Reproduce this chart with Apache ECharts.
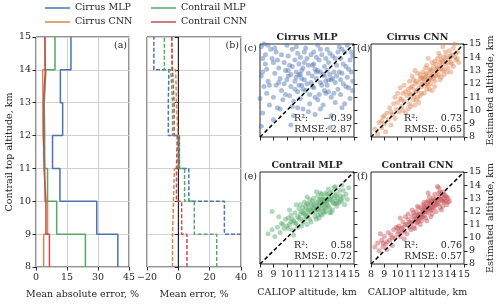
<!DOCTYPE html>
<html><head><meta charset="utf-8">
<script src="https://cdn.jsdelivr.net/npm/echarts@6/dist/echarts.min.js"></script>
<style>html,body{margin:0;padding:0;background:#fff}#c{width:500px;height:305px}</style>
</head><body><div id="c"></div>
<script>
// ---------- data ----------
const altBins = [8, 9, 10, 11, 12, 13, 14, 15];
const seriesNames = ['Cirrus MLP', 'Cirrus CNN', 'Contrail MLP', 'Contrail CNN'];
// Mean absolute error (%) per 1-km altitude bin (8-9 ... 14-15)
const maeCirrusMLP   = [39.6, 29.4, 11.6, 8.0, 12.9, 11.8, 16.9];
const maeCirrusCNN   = [3.7, 5.6, 4.3, 3.4, 3.4, 3.2, 4.3];
const maeContrailMLP = [23.9, 10.0, 5.6, 4.2, 4.0, 4.8, 9.2];
const maeContrailCNN = [6.5, 4.8, 3.9, 3.7, 3.6, 4.5, 4.3];
// Mean error (%) per bin
const meCirrusMLP   = [42, 29.4, 6.7, 0.7, -6.4, -6.0, -15.6];
const meCirrusCNN   = [-3.7, -3.1, -2.5, -0.3, -1.2, -1.7, -4.2];
const meContrailMLP = [24.5, 10.2, 4.0, 0.5, -3.7, -4.8, -8.9];
const meContrailCNN = [5.5, 2.1, -1.2, -0.7, -2.7, -3.7, -4.2];
// tick labels
const maeTicks = [0, 15, 30, 45];
const meTicks = [-20, 0, 20, 40];
const scatterTicks = [8, 9, 10, 11, 12, 13, 14, 15];
// scatter statistics
const statsR2   = ['-0.39', '0.73', '0.58', '0.76'];
const statsRMSE = ['2.87', '0.65', '0.72', '0.57'];
const panelTitles = ['Cirrus MLP', 'Cirrus CNN', 'Contrail MLP', 'Contrail CNN'];
// scatter points [CALIOP altitude, estimated altitude] (km)
const ptsCirrusMLP = [[8.1,14.8],[8.2,13.9],[8.1,12.6],[8.3,11.8],[8.0,10.9],[8.2,9.8],[8.1,8.8],[8.4,14.2],[8.5,13.1],[8.6,12.2],[8.5,11.3],[8.7,10.4],[8.3,15.0],[8.8,14.6],
[9.0,13.6],[9.1,12.8],[9.2,11.9],[9.0,11.0],[9.3,10.2],[9.4,13.2],[9.5,12.4],[9.6,11.5],[9.2,14.4],[9.7,10.8],[9.8,12.0],[9.9,13.0],
[10.0,14.9],[10.1,14.1],[10.2,13.4],[10.1,12.6],[10.3,11.8],[10.2,11.1],[10.4,10.3],[10.5,9.6],[10.4,14.6],[10.6,13.8],[10.7,12.9],[10.6,12.2],[10.8,11.4],[10.5,10.7],[10.9,13.5],[10.8,14.3],[10.3,8.9],
[11.0,12.7],[11.1,11.9],[11.2,13.2],[11.0,10.9],[11.3,12.3],[11.4,11.5],[11.2,10.1],[11.5,13.9],[11.6,12.8],[11.4,14.7],[11.7,11.2],[11.8,12.1],[11.9,13.4],[11.6,9.9],
[12.0,14.4],[12.1,13.1],[12.2,12.4],[12.0,11.7],[12.3,10.8],[12.4,13.8],[12.5,12.9],[12.3,14.9],[12.6,11.9],[12.7,10.4],[12.8,13.3],[12.9,12.2],[12.6,14.2],[12.9,11.3],
[13.0,14.6],[13.1,13.6],[13.2,12.7],[13.0,11.9],[13.3,11.0],[13.4,14.1],[13.5,12.9],[13.6,12.1],[13.3,9.6],[13.7,13.4],[13.8,11.6],[13.9,14.8],[13.6,10.6],[13.2,8.7],
[14.0,13.9],[14.1,12.8],[14.2,12.0],[14.0,11.2],[14.3,14.4],[14.4,13.3],[14.5,12.5],[14.3,10.5],[14.6,11.7],[14.7,13.8],[14.8,12.9],[14.5,14.9],[14.9,12.2],[14.7,10.9],[14.9,14.1],
[10.7,12.5],[11.1,12.4],[11.3,13.6],[12.2,12.9],[12.5,12.1],[12.8,12.6],[13.4,12.4],[13.1,12.3],[11.9,12.6],[10.9,11.9],
[8.2,12.9],[8.4,13.5],[8.6,14.9],[8.9,13.9],[8.7,11.9],[9.1,14.7],[9.3,13.8],[9.4,12.1],[9.6,14.2],[9.8,13.6],[9.9,11.2],[9.5,10.1],[10.0,12.3],[10.1,13.0],[10.3,12.7],[10.4,13.3],[10.6,11.6],[10.7,14.8],[10.9,12.7],[11.0,14.0],[11.1,13.0],[11.2,11.6],[11.3,14.4],[11.5,12.0],[11.6,13.4],[11.7,10.5],[11.8,14.2],[11.9,11.8],[12.0,13.5],[12.1,11.0],[12.2,14.0],[12.3,13.0],[12.4,11.2],[12.5,14.6],[12.7,12.7],[12.8,11.5],[12.9,13.9],[13.0,13.0],[13.1,11.4],[13.2,14.3],[13.3,12.3],[13.5,11.3],[13.6,13.9],[13.7,12.6],[13.8,14.4],[13.9,12.9],[14.0,12.3],[14.1,14.6],[14.2,13.5],[14.4,11.8],[14.6,13.1],[14.8,14.4],[14.9,11.5],[14.1,10.2],[12.1,9.7],[10.8,10.2],[9.0,9.3],[12.5,10.1]];
const ptsCirrusCNN = [[8.3,8.6],[8.5,8.2],[8.6,9.1],[8.8,8.7],[8.9,9.5],[9.0,9.0],[9.1,8.4],[9.2,9.8],[9.3,9.3],[9.4,10.2],[9.5,8.9],[9.6,9.7],[9.7,10.5],[9.8,9.4],[9.9,10.1],[9.8,11.0],
[10.0,10.6],[10.1,9.9],[10.2,10.9],[10.3,10.3],[10.4,11.3],[10.5,10.7],[10.6,9.8],[10.7,11.1],[10.8,11.6],[10.9,10.5],[10.2,11.7],[10.5,11.9],[10.8,10.1],[10.9,12.2],[10.4,10.0],
[11.0,11.2],[11.1,11.8],[11.2,10.8],[11.3,11.5],[11.4,12.2],[11.5,11.0],[11.6,11.7],[11.7,12.4],[11.8,11.3],[11.9,12.0],[11.1,12.6],[11.3,10.4],[11.5,12.8],[11.7,11.1],[11.9,12.9],[11.2,12.3],[11.6,10.6],[11.8,12.5],[11.4,11.4],[11.0,10.3],
[12.0,12.1],[12.1,12.7],[12.2,11.6],[12.3,12.4],[12.4,13.1],[12.5,12.0],[12.6,12.6],[12.7,13.3],[12.8,12.2],[12.9,12.9],[12.0,11.3],[12.2,13.4],[12.4,12.3],[12.6,11.5],[12.8,13.7],[12.1,12.5],[12.3,11.9],[12.5,13.0],[12.7,12.4],[12.9,13.5],[12.3,13.9],[12.6,13.6],[12.2,12.0],[12.8,11.8],
[13.0,12.6],[13.1,13.2],[13.2,12.3],[13.3,13.8],[13.4,13.0],[13.5,12.7],[13.6,13.5],[13.7,14.1],[13.8,13.2],[13.9,13.9],[13.1,14.3],[13.3,12.5],[13.5,14.0],[13.7,12.9],[13.9,14.5],[13.2,13.6],[13.6,14.4],[13.4,14.8],[13.0,13.9],
[14.0,13.6],[14.1,14.2],[14.2,13.3],[14.3,14.0],[14.4,13.8],[14.5,14.4],[14.2,14.7],[14.6,13.6],[14.0,12.9],[14.3,15.0],
[10.3,10.8],[10.6,11.4],[10.9,11.3],[11.0,11.7],[11.2,11.1],[11.3,12.0],[11.5,11.5],[11.6,12.1],[11.8,11.8],[11.9,12.4],[12.0,12.4],[12.1,11.9],[12.2,12.8],[12.3,12.2],[12.4,12.7],[12.5,12.4],[12.6,13.0],[12.7,12.7],[12.8,12.6],[12.9,13.1],[13.0,13.2],[13.1,12.7],[13.2,13.1],[13.3,13.4],[13.4,13.7],[13.5,13.1],[13.6,13.8],[13.8,13.6],[14.0,14.1],[14.1,13.5],[14.4,14.3],[12.1,13.2],[11.7,12.7],[11.4,10.8],[10.0,11.3],[9.5,9.9],[9.0,9.6],[8.8,9.2],[12.4,11.6],[13.2,14.1],[14.5,13.9],[11.3,13.0]];
const ptsContrailMLP = [[8.6,10.3],[8.9,10.6],[9.1,10.1],[9.3,10.8],[9.5,10.4],[9.6,11.1],[9.8,10.7],[9.9,11.4],[8.9,12.0],[9.4,11.6],
[10.0,10.9],[10.1,11.5],[10.2,11.0],[10.3,11.7],[10.4,10.6],[10.5,11.3],[10.6,11.9],[10.7,11.1],[10.8,11.6],[10.9,12.2],[10.2,12.1],[10.5,10.2],[10.8,10.8],[10.4,11.4],[10.7,12.5],
[11.0,11.4],[11.1,12.0],[11.2,11.2],[11.3,11.8],[11.4,12.4],[11.5,11.6],[11.6,12.1],[11.7,11.4],[11.8,12.6],[11.9,11.9],[11.1,10.9],[11.3,12.7],[11.5,11.0],[11.7,12.9],[11.9,12.3],[11.2,12.3],[11.4,11.7],[11.6,12.5],[11.8,11.2],[11.0,12.5],[11.5,13.1],[11.9,12.8],
[12.0,12.2],[12.1,11.6],[12.2,12.7],[12.3,12.1],[12.4,12.9],[12.5,11.8],[12.6,12.5],[12.7,13.1],[12.8,12.3],[12.9,12.8],[12.0,13.0],[12.2,11.4],[12.4,12.4],[12.6,13.3],[12.8,11.9],[12.1,12.4],[12.3,13.2],[12.5,12.6],[12.7,12.0],[12.9,13.4],[12.2,13.5],[12.6,11.7],[12.4,11.5],[12.8,12.9],
[13.0,12.5],[13.1,13.1],[13.2,12.2],[13.3,12.9],[13.4,13.5],[13.5,12.6],[13.6,13.2],[13.7,12.4],[13.8,13.0],[13.9,13.6],[13.1,13.7],[13.3,11.9],[13.5,13.8],[13.7,12.8],[13.2,13.4],[13.4,12.1],[13.6,13.9],[13.9,12.7],[13.0,12.9],
[14.0,13.2],[14.1,12.8],[14.2,13.6],[14.3,12.5],[14.4,13.3],[14.6,13.8],[14.1,14.0],[14.5,12.9],
[11.0,11.8],[11.2,11.9],[11.4,12.1],[11.6,11.8],[11.8,12.0],[12.0,12.5],[12.1,12.0],[12.2,12.2],[12.3,12.6],[12.4,12.1],[12.5,12.9],[12.6,12.2],[12.7,12.7],[12.8,12.6],[12.9,12.3],[13.0,12.7],[13.1,12.4],[13.2,12.9],[13.3,13.2],[13.4,12.7],[13.5,13.0],[13.6,12.6],[13.7,13.3],[13.8,12.6],[12.3,11.7],[11.7,12.2],[11.3,11.4],[10.9,11.5],[10.6,11.1],[10.3,11.2],[12.5,13.4],[13.0,13.3],[13.2,11.9],[14.0,12.9],[14.2,13.1],[9.7,11.0],[10.1,10.7],[11.5,12.6],[12.9,12.0],[12.6,12.9]];
const ptsContrailCNN = [[8.3,9.3],[8.5,9.6],[8.6,9.0],[8.8,9.8],[8.9,9.3],[9.0,10.1],[9.1,9.5],[9.2,9.1],[9.3,10.4],[9.4,9.8],[9.5,10.2],[9.6,9.4],[9.7,10.6],[9.8,10.0],[9.9,10.8],[8.7,10.3],
[10.0,10.3],[10.1,10.9],[10.2,10.1],[10.3,10.7],[10.4,11.2],[10.5,10.5],[10.6,11.0],[10.7,10.3],[10.8,11.4],[10.9,10.8],[10.2,11.5],[10.5,9.9],[10.8,11.8],[10.4,10.8],[10.6,11.6],[10.1,10.5],
[11.0,11.1],[11.1,11.6],[11.2,10.8],[11.3,11.4],[11.4,12.0],[11.5,11.2],[11.6,11.8],[11.7,11.0],[11.8,12.2],[11.9,11.6],[11.1,12.1],[11.3,10.7],[11.5,12.4],[11.7,11.5],[11.9,12.5],[11.2,11.9],[11.4,11.1],[11.6,12.3],[11.8,11.3],[11.0,10.6],[11.5,11.7],[11.9,11.9],
[12.0,12.0],[12.1,11.5],[12.2,12.4],[12.3,11.9],[12.4,12.6],[12.5,12.1],[12.6,12.8],[12.7,12.3],[12.8,12.9],[12.9,12.5],[12.0,12.7],[12.2,11.3],[12.4,13.1],[12.6,11.8],[12.8,13.3],[12.1,12.3],[12.3,12.8],[12.5,11.6],[12.7,13.0],[12.9,12.0],[12.3,13.4],[12.6,12.4],
[13.0,12.6],[13.1,13.1],[13.2,12.3],[13.3,12.9],[13.4,13.5],[13.5,12.7],[13.6,13.2],[13.7,12.5],[13.8,13.0],[13.1,13.8],[13.3,12.1],[13.5,13.3],[13.2,13.5],[13.0,13.9],[13.9,12.8],[13.4,12.4],
[10.9,11.2],[11.1,11.2],[11.3,11.7],[11.5,11.5],[11.7,11.8],[11.9,12.1],[12.0,11.7],[12.1,12.1],[12.2,12.0],[12.3,12.3],[12.4,12.2],[12.5,12.5],[12.6,12.1],[12.7,12.7],[12.8,12.4],[12.9,12.8],[13.0,12.9],[13.1,12.6],[13.2,12.9],[13.3,13.2],[13.4,12.8],[13.5,13.0],[13.6,12.8],[13.7,13.1],[12.2,12.7],[11.8,11.6],[11.4,11.4],[10.7,11.0],[10.3,10.4],[10.0,10.7],[9.6,10.0],[9.2,9.7],[8.9,9.6],[13.8,12.7],[12.0,12.4],[11.6,11.3],[12.5,12.8],[13.1,13.4]];
const diagLine = [[8, 8], [15, 15]];

// ---------- styling ----------
const F = 'DejaVu Serif';
const FS = 9.5;
const TXT = '#262626';
const colors = ['#4c72b0', '#dd8452', '#55a868', '#c44e52'];

function stepPts(v) {
  const p = [];
  for (let i = 0; i < v.length; i++) { p.push([v[i], altBins[i]], [v[i], altBins[i + 1]]); }
  return p;
}
const minus = v => String(v).replace('-', '\u2212');

function axis(o, isX) {
  const base = {
    type: 'value', axisLine: { show: false },
    axisTick: { show: true, length: 3.5, lineStyle: { color: TXT } },
    axisLabel: { show: false, fontFamily: F, fontSize: FS, color: TXT, margin: isX ? 6 : 5, formatter: minus },
    splitLine: { show: false },
    nameTextStyle: { fontFamily: F, fontSize: FS, color: TXT }
  };
  for (const k in o) {
    if (base[k] && typeof base[k] === 'object' && !Array.isArray(base[k])) base[k] = Object.assign({}, base[k], o[k]);
    else base[k] = o[k];
  }
  return base;
}
const gridStyle = { show: true, borderColor: TXT, borderWidth: 1, backgroundColor: 'transparent' };
const grids = [
  { left: 36, top: 37, width: 93, height: 233 },
  { left: 147, top: 37, width: 94, height: 233 },
  { left: 260, top: 44, width: 94, height: 93 },
  { left: 371, top: 44, width: 93, height: 93 },
  { left: 260, top: 172, width: 94, height: 92 },
  { left: 371, top: 172, width: 93, height: 92 }
].map(g => Object.assign({}, gridStyle, g));

const split = { show: true, lineStyle: { color: '#d0d0d0', width: 1 } };
const xAxes = [
  axis({ gridIndex: 0, min: maeTicks[0], max: maeTicks[maeTicks.length - 1], interval: 15, axisLabel: { show: true }, splitLine: split,
    name: 'Mean absolute error, %', nameLocation: 'middle', nameGap: 23 }, true),
  axis({ gridIndex: 1, min: meTicks[0], max: meTicks[meTicks.length - 1], interval: 20, axisLabel: { show: true }, splitLine: split,
    name: 'Mean error, %', nameLocation: 'middle', nameGap: 23 }, true),
  axis({ gridIndex: 2, min: 8, max: 15, interval: 1 }, true),
  axis({ gridIndex: 3, min: 8, max: 15, interval: 1 }, true),
  axis({ gridIndex: 4, min: 8, max: 15, interval: 1, axisLabel: { show: true }, name: 'CALIOP altitude, km', nameLocation: 'middle', nameGap: 24 }, true),
  axis({ gridIndex: 5, min: 8, max: 15, interval: 1, axisLabel: { show: true }, name: 'CALIOP altitude, km', nameLocation: 'middle', nameGap: 24 }, true)
];
const yAxes = [
  axis({ gridIndex: 0, min: 8, max: 15, interval: 1, axisLabel: { show: true }, splitLine: split,
    name: 'Contrail top altitude, km', nameLocation: 'middle', nameGap: 20 }),
  axis({ gridIndex: 1, min: 8, max: 15, interval: 1, splitLine: split }),
  axis({ gridIndex: 2, min: 8, max: 15, interval: 1, position: 'right' }),
  axis({ gridIndex: 3, min: 8, max: 15, interval: 1, position: 'right', axisLabel: { show: true },
    name: 'Estimated altitude, km', nameLocation: 'middle', nameGap: 22, nameRotate: 90 }),
  axis({ gridIndex: 4, min: 8, max: 15, interval: 1, position: 'right' }),
  axis({ gridIndex: 5, min: 8, max: 15, interval: 1, position: 'right', axisLabel: { show: true },
    name: 'Estimated altitude, km', nameLocation: 'middle', nameGap: 22, nameRotate: 90 })
];

const maeData = [maeCirrusMLP, maeCirrusCNN, maeContrailMLP, maeContrailCNN];
const meData = [meCirrusMLP, meCirrusCNN, meContrailMLP, meContrailCNN];
const scatData = [ptsCirrusMLP, ptsCirrusCNN, ptsContrailMLP, ptsContrailCNN];

const series = [];
maeData.forEach((v, i) => series.push({
  name: seriesNames[i], type: 'line', xAxisIndex: 0, yAxisIndex: 0, data: stepPts(v), symbol: 'none',
  color: colors[i], lineStyle: { color: colors[i], width: 1.5 }, z: 3 + i
}));
series.push({ name: 'zero', type: 'line', xAxisIndex: 1, yAxisIndex: 1, data: [[0, 8], [0, 15]], symbol: 'none',
  lineStyle: { color: '#000', width: 1 }, z: 2 });
meData.forEach((v, i) => series.push({
  name: seriesNames[i], type: 'line', xAxisIndex: 1, yAxisIndex: 1, data: stepPts(v), symbol: 'none',
  color: colors[i], lineStyle: { color: colors[i], width: 1.5, type: [4, 2] }, z: 3 + i
}));
scatData.forEach((d, i) => {
  series.push({ name: 'pts' + i, type: 'scatter', xAxisIndex: 2 + i, yAxisIndex: 2 + i, data: d, symbolSize: 5,
    itemStyle: { color: colors[i], opacity: 0.45 }, z: 2 });
  series.push({ name: 'diag' + i, type: 'line', xAxisIndex: 2 + i, yAxisIndex: 2 + i, data: diagLine, symbol: 'none',
    lineStyle: { color: '#000', width: 1.5, type: [4, 2.5] }, z: 4 });
});

const graphic = [];
function txt(text, x, y, align, extra) {
  graphic.push({ type: 'text', silent: true, z: 100,
    style: Object.assign({ text: text, x: x, y: y, align: align || 'left', verticalAlign: 'middle',
      fontFamily: F, fontSize: FS, fill: TXT }, extra || {}) });
}
txt('(a)', 127, 46, 'right');
txt('(b)', 239, 46, 'right');
txt('(c)', 244, 49, 'left');
txt('(d)', 357, 49, 'left');
txt('(e)', 244, 177, 'left');
txt('(f)', 357, 177, 'left');
const sg = [grids[2], grids[3], grids[4], grids[5]];
sg.forEach((g, i) => {
  const r = g.left + g.width - 2, b = g.top + g.height;
  txt(panelTitles[i], g.left + g.width / 2, g.top - 6, 'center', { fontWeight: 'bold' });
  txt('R\u00b2:', r - 58, b - 18, 'left');
  txt(minus(statsR2[i]), r, b - 18, 'right');
  txt('RMSE: ' + statsRMSE[i], r, b - 7, 'right');
});

const legendBase = { orient: 'vertical', icon: 'rect', itemWidth: 25, itemHeight: 1.5, itemGap: 4, selectedMode: false,
  textStyle: { fontFamily: F, fontSize: FS, color: TXT, padding: [0, 0, 0, 0] }, padding: 0 };
const legends = [
  Object.assign({}, legendBase, { left: 45, top: 3, data: [seriesNames[0], seriesNames[1]] }),
  Object.assign({}, legendBase, { left: 151, top: 3, data: [seriesNames[2], seriesNames[3]] })
];

const chart = echarts.init(document.getElementById('c'), null, { renderer: 'canvas' });
chart.setOption({ animation: false, grid: grids, xAxis: xAxes, yAxis: yAxes, series: series, legend: legends, graphic: graphic });
</script></body></html>
